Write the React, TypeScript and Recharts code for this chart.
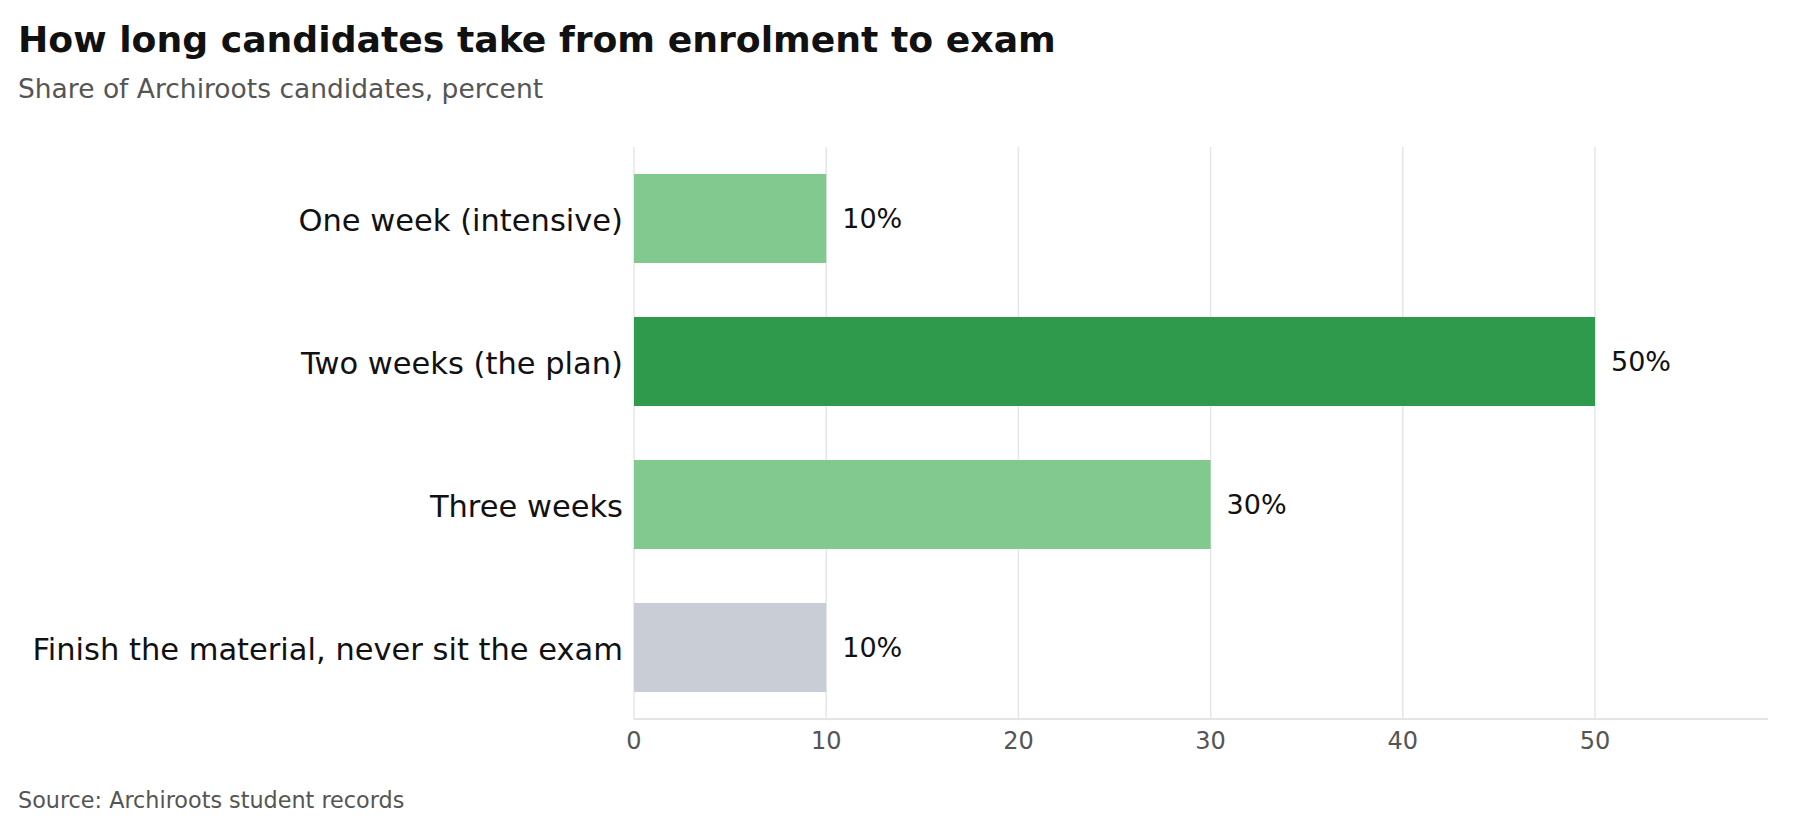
import React from "react";
import { BarChart, Bar, XAxis, YAxis, CartesianGrid, Cell, LabelList } from "recharts";

const categories = [
  "One week (intensive)",
  "Two weeks (the plan)",
  "Three weeks",
  "Finish the material, never sit the exam",
];
const shares = [10, 50, 30, 10];
const barColors = ["#82c98f", "#2f9a4c", "#82c98f", "#c9cdd5"];
const xTicks = [0, 10, 20, 30, 40, 50];

const data = categories.map((name, i) => ({ name, value: shares[i] }));

const FONT = "'DejaVu Sans', sans-serif";

export default function App() {
  return (
    <div
      style={{
        position: "absolute",
        left: 0,
        top: 0,
        width: 1800,
        height: 819,
        background: "#fff",
        fontFamily: FONT,
      }}
    >
      <div
        style={{
          position: "absolute",
          left: 18,
          top: 22,
          fontSize: 36.2,
          lineHeight: "36px",
          fontWeight: "bold",
          color: "#111",
          whiteSpace: "nowrap",
        }}
      >
        How long candidates take from enrolment to exam
      </div>
      <div
        style={{
          position: "absolute",
          left: 18,
          top: 76,
          fontSize: 26.5,
          lineHeight: "26.5px",
          color: "#555",
          whiteSpace: "nowrap",
        }}
      >
        Share of Archiroots candidates, percent
      </div>

      <div style={{ position: "absolute", left: 0, top: 0 }}>
        <BarChart
          width={1800}
          height={819}
          data={data}
          layout="vertical"
          margin={{ top: 147, right: 32, bottom: 0, left: 0 }}
        >
          <CartesianGrid
            horizontal={false}
            verticalValues={xTicks}
            stroke="#e6e6ea"
            strokeWidth={1.5}
          />
          <XAxis
            type="number"
            domain={[0, 59]}
            ticks={xTicks}
            height={100}
            axisLine={{ stroke: "#e3e3e8", strokeWidth: 2 }}
            tickLine={false}
            tickSize={0}
            tickMargin={13}
            tick={{ fill: "#555", fontSize: 24, fontFamily: FONT }}
          />
          <YAxis
            type="category"
            dataKey="name"
            width={634}
            axisLine={false}
            tickLine={false}
            tickSize={0}
            tickMargin={11}
            tick={{ fill: "#111", fontSize: 30.5, fontFamily: FONT, dy: 2 }}
          />
          <Bar dataKey="value" barSize={89} isAnimationActive={false}>
            {data.map((d, i) => (
              <Cell key={d.name} fill={barColors[i]} />
            ))}
            <LabelList
              dataKey="value"
              position="right"
              offset={16}
              formatter={(v: number) => `${v}%`}
              style={{ fill: "#111", fontSize: 27, fontFamily: FONT }}
            />
          </Bar>
        </BarChart>
      </div>

      <div
        style={{
          position: "absolute",
          left: 18,
          top: 789,
          fontSize: 22.3,
          lineHeight: "22px",
          color: "#555",
          whiteSpace: "nowrap",
        }}
      >
        Source: Archiroots student records
      </div>
    </div>
  );
}
